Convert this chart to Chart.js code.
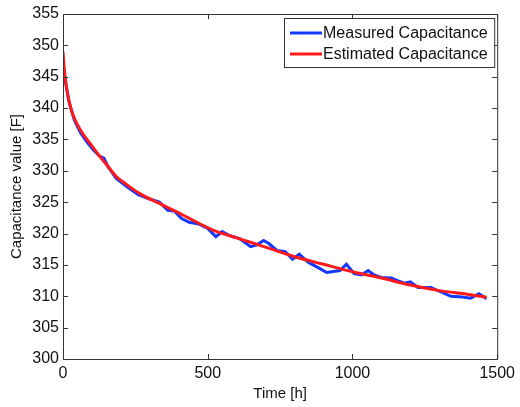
<!DOCTYPE html>
<html>
<head>
    <title>Capacitance over Time</title>
    <script src="https://cdn.jsdelivr.net/npm/chart.js"></script>
    <style>
        body { margin: 0; background: #fff; }
        canvas { display: block; }
    </style>
</head>
<body>
    <canvas id="capChart" width="520" height="407"></canvas>

    <script>
        // measured capacitance (blue)
        const measuredTime = [0, 8, 20, 40, 60, 81, 105, 125, 142, 155, 184, 220, 260, 299, 333, 362, 384, 410, 436, 470, 500, 528, 550, 573, 610, 648, 670, 693, 711, 739, 768, 793, 816, 848, 880, 911, 957, 979, 1006, 1031, 1054, 1075, 1099, 1134, 1160, 1180, 1200, 1226, 1271, 1300, 1340, 1380, 1408, 1437, 1463];
        const measuredCap = [347, 344.3, 341.1, 338.0, 336.1, 334.7, 333.3, 332.4, 332.0, 330.7, 328.8, 327.5, 326.2, 325.5, 325.0, 323.7, 323.6, 322.4, 321.8, 321.5, 320.8, 319.5, 320.3, 319.7, 319.2, 317.9, 318.2, 318.9, 318.4, 317.3, 317.1, 315.9, 316.7, 315.4, 314.6, 313.8, 314.1, 315.1, 313.6, 313.4, 314.1, 313.4, 313.0, 312.9, 312.4, 312.1, 312.3, 311.4, 311.4, 310.8, 310.0, 309.9, 309.7, 310.4, 309.6];

        // estimated capacitance (red)
        const estimatedTime = [0, 5, 10, 18, 30, 47, 70, 93, 127, 150, 184, 220, 264, 333, 400, 516, 600, 676, 800, 900, 1000, 1100, 1200, 1300, 1400, 1463];
        const estimatedCap = [349, 346, 344, 341.8, 339.5, 337.6, 335.8, 334.4, 332.3, 331, 329.1, 327.8, 326.4, 324.8, 323.3, 320.6, 319.3, 318.2, 316.3, 315.1, 313.9, 312.9, 311.8, 310.9, 310.3, 309.85];

        const xTicks = [0, 500, 1000, 1500];
        const yTicks = [300, 305, 310, 315, 320, 325, 330, 335, 340, 345, 350, 355];

        const FONT = '"Liberation Sans", Arial, sans-serif';

        const toPoints = (xs, ys) => xs.map((x, i) => ({ x: x, y: ys[i] }));

        // box around the plot with inward ticks on all four sides
        const framePlugin = {
            id: 'frame',
            afterDraw(chart) {
                const ctx = chart.ctx;
                const a = chart.chartArea;
                const xs = chart.scales.x, ys = chart.scales.y;
                const len = 5;
                ctx.save();
                ctx.strokeStyle = '#333';
                ctx.lineWidth = 1;
                ctx.beginPath();
                ctx.rect(a.left + 0.5, a.top + 0.5, a.right - a.left, a.bottom - a.top);
                xTicks.forEach(v => {
                    const px = Math.round(xs.getPixelForValue(v)) + 0.5;
                    ctx.moveTo(px, a.bottom); ctx.lineTo(px, a.bottom - len);
                    ctx.moveTo(px, a.top); ctx.lineTo(px, a.top + len);
                });
                yTicks.forEach(v => {
                    const py = Math.round(ys.getPixelForValue(v)) + 0.5;
                    ctx.moveTo(a.left, py); ctx.lineTo(a.left + len, py);
                    ctx.moveTo(a.right, py); ctx.lineTo(a.right - len, py);
                });
                ctx.stroke();
                ctx.restore();
            }
        };

        // legend drawn inside the top right corner, like the original
        const boxLegendPlugin = {
            id: 'boxLegend',
            afterDraw(chart) {
                const ctx = chart.ctx;
                const a = chart.chartArea;
                const left = 284, top = 18, w = a.right - 3 - left, h = 49;
                ctx.save();
                ctx.fillStyle = '#fff';
                ctx.fillRect(left, top, w, h);
                ctx.strokeStyle = '#333';
                ctx.lineWidth = 1;
                ctx.strokeRect(left + 0.5, top + 0.5, w, h);
                ctx.font = '16px ' + FONT;
                ctx.textBaseline = 'middle';
                chart.data.datasets.forEach((ds, i) => {
                    const y = top + 15 + i * 21;
                    ctx.strokeStyle = ds.borderColor;
                    ctx.lineWidth = 3;
                    ctx.beginPath();
                    ctx.moveTo(290, y);
                    ctx.lineTo(322, y);
                    ctx.stroke();
                    ctx.fillStyle = '#111';
                    ctx.fillText(ds.label, 323, y + 1);
                });
                ctx.restore();
            }
        };

        new Chart(document.getElementById('capChart'), {
            type: 'line',
            data: {
                datasets: [{
                    label: 'Measured Capacitance',
                    data: toPoints(measuredTime, measuredCap),
                    borderColor: '#1438ff',
                    borderWidth: 3,
                    pointRadius: 0,
                    tension: 0,
                    order: 2
                }, {
                    label: 'Estimated Capacitance',
                    data: toPoints(estimatedTime, estimatedCap),
                    borderColor: '#ff1a1a',
                    borderWidth: 3,
                    pointRadius: 0,
                    cubicInterpolationMode: 'monotone',
                    order: 1
                }]
            },
            options: {
                responsive: false,
                animation: false,
                layout: { padding: { left: 0, right: 20, top: 14, bottom: 0 } },
                plugins: {
                    legend: { display: false },
                    tooltip: { enabled: false }
                },
                scales: {
                    x: {
                        type: 'linear',
                        min: 0,
                        max: 1500,
                        afterFit: s => { s.height = 48; },
                        afterBuildTicks: s => { s.ticks = xTicks.map(v => ({ value: v })); },
                        grid: { display: false, drawTicks: false },
                        border: { display: false },
                        ticks: {
                            padding: 5,
                            maxRotation: 0,
                            color: '#111',
                            font: { family: FONT, size: 16 },
                            callback: v => String(v)
                        },
                        title: {
                            display: true,
                            text: 'Time [h]',
                            color: '#111',
                            padding: { top: 4, bottom: 4 },
                            font: { family: FONT, size: 15 }
                        }
                    },
                    y: {
                        type: 'linear',
                        min: 300,
                        max: 355,
                        afterFit: s => { s.width = 63; },
                        afterBuildTicks: s => { s.ticks = yTicks.map(v => ({ value: v })); },
                        grid: { display: false, drawTicks: false },
                        border: { display: false },
                        ticks: {
                            padding: 4,
                            color: '#111',
                            font: { family: FONT, size: 16 },
                            callback: v => String(v)
                        },
                        title: {
                            display: true,
                            text: 'Capacitance value [F]',
                            color: '#111',
                            padding: { top: 8, bottom: 0 },
                            font: { family: FONT, size: 15 }
                        }
                    }
                }
            },
            plugins: [framePlugin, boxLegendPlugin]
        });
    </script>
</body>
</html>
